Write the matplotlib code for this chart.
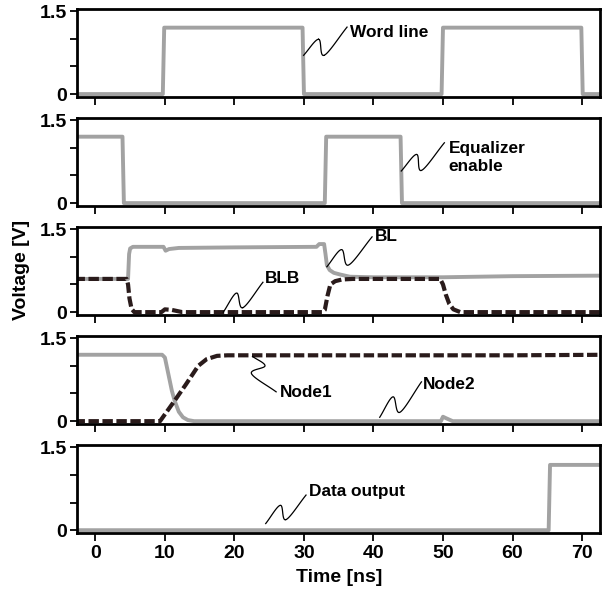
import numpy as np
import matplotlib
matplotlib.use("Agg")
import matplotlib.pyplot as plt
from matplotlib.ticker import FixedLocator

plt.rcParams['font.family'] = ['Liberation Sans', 'DejaVu Sans']
plt.rcParams['font.weight'] = 'bold'

# ---------------- data ----------------
x_ticks = [0, 10, 20, 30, 40, 50, 60, 70]

wl_t = [-3, 9.7, 9.9, 29.8, 30.0, 49.8, 50.0, 69.9, 70.1, 74]
wl_v = [0, 0, 1.2, 1.2, 0, 0, 1.2, 1.2, 0, 0]

eq_t = [-3, 3.9, 4.1, 33.0, 33.2, 43.9, 44.1, 74]
eq_v = [1.2, 1.2, 0, 0, 1.2, 1.2, 0, 0]

bl_t = [-3, 4.7, 4.85, 5.0, 5.4, 9.8, 10.1, 10.6, 12, 20, 31.8, 32.2, 32.9, 33.1, 33.3,
        33.7, 34.3, 35.2, 36.6, 40, 50, 60, 74]
bl_v = [0.6, 0.6, 1.05, 1.15, 1.18, 1.18, 1.11, 1.14, 1.16, 1.17, 1.18, 1.23, 1.23, 1.05,
        0.85, 0.76, 0.71, 0.68, 0.64, 0.63, 0.63, 0.65, 0.66]

blb_t = [-3, 4.5, 4.7, 4.9, 5.2, 5.6, 9.5, 10.0, 11, 12.5, 32.6, 33.0, 33.4, 33.8, 34.5,
         35.5, 37, 49.6, 50.0, 50.4, 50.9, 51.5, 52.5, 74]
blb_v = [0.6, 0.6, 0.5, 0.25, 0.06, 0.0, 0.0, 0.05, 0.04, 0.0, 0.0, 0.04, 0.3, 0.5, 0.56,
         0.59, 0.6, 0.6, 0.5, 0.32, 0.15, 0.05, 0.0, 0.0]

node2_t = [-3, 9.6, 10.0, 10.5, 11.0, 11.4, 12.0, 12.6, 13.3, 14.2, 49.7, 50.0, 50.5, 51.4, 74]
node2_v = [1.2, 1.2, 1.15, 0.85, 0.55, 0.37, 0.17, 0.07, 0.02, 0.0, 0.0, 0.08, 0.05, 0.0, 0.0]

node1_t = [-3, 9.3, 11.4, 13.0, 14.8, 16.0, 17.5, 19.0, 25, 40, 60, 74]
node1_v = [0, 0, 0.37, 0.66, 1.0, 1.12, 1.18, 1.19, 1.19, 1.19, 1.19, 1.2]

out_t = [-3, 65.2, 65.4, 74]
out_v = [0, 0, 1.18, 1.18]

GRAY = '#a2a2a2'
DARK = '#2a1b1b'

# ---------------- figure ----------------
fig = plt.figure(figsize=(6.08, 5.89), dpi=100)
fig.subplots_adjust(left=0.126, right=0.987, top=0.985, bottom=0.0956, hspace=0.243)
axes = fig.subplots(5, 1, sharex=True)


def squiggle(ax, pts):
    """Catmull-Rom curve through pointer points (decoration)."""
    p = np.array(pts, dtype=float)
    p = np.vstack([p[0] - (p[1] - p[0]), p, p[-1] + (p[-1] - p[-2])])
    out = []
    s = np.linspace(0, 1, 20)
    for i in range(1, len(p) - 2):
        p0, p1, p2, p3 = p[i - 1], p[i], p[i + 1], p[i + 2]
        for u in s:
            out.append(0.5 * ((2 * p1) + (-p0 + p2) * u + (2 * p0 - 5 * p1 + 4 * p2 - p3) * u ** 2
                              + (-p0 + 3 * p1 - 3 * p2 + p3) * u ** 3))
    out = np.array(out)
    ax.plot(out[:, 0], out[:, 1], color='black', lw=0.9, clip_on=False, zorder=5)


gl = dict(color=GRAY, lw=2.8, solid_capstyle='butt', solid_joinstyle='round')
dl = dict(color=DARK, lw=3.0, linestyle=(0, (2.5, 0.85)), dash_capstyle='butt')

axes[0].plot(wl_t, wl_v, **gl)
axes[1].plot(eq_t, eq_v, **gl)
axes[2].plot(bl_t, bl_v, **gl)
axes[2].plot(blb_t, blb_v, **dl)
axes[3].plot(node2_t, node2_v, **gl)
axes[3].plot(node1_t, node1_v, **dl)
axes[4].plot(out_t, out_v, **gl)

TL = 14
for ax in axes:
    ax.set_xlim(-2.7, 72.6)
    ax.set_ylim(-0.045, 1.54)
    ax.yaxis.set_major_locator(FixedLocator([0, 1.5]))
    ax.set_yticklabels(['0', '1.5'])
    ax.yaxis.set_minor_locator(FixedLocator([0.5, 1.0]))
    ax.xaxis.set_major_locator(FixedLocator(x_ticks))
    ax.tick_params(axis='both', which='both', direction='out', width=1.3, length=5,
                   labelsize=TL, pad=2)
    ax.tick_params(axis='x', which='major', length=6)
    for sp in ax.spines.values():
        sp.set_linewidth(2.0)
    for lab in ax.get_yticklabels():
        lab.set_fontweight('bold')
for ax in axes[:-1]:
    ax.tick_params(axis='x', labelbottom=False)
axes[-1].set_xticklabels([str(v) for v in x_ticks], fontweight='bold')
axes[-1].tick_params(axis='x', pad=3)

fs = 12.4
# annotations
squiggle(axes[0], [(29.95, 0.70), (32.1, 0.99), (32.9, 0.70), (36.2, 1.21)])
axes[0].text(36.6, 1.12, 'Word line', fontsize=fs, fontweight='bold', va='center', ha='left')

squiggle(axes[1], [(44.0, 0.58), (46.2, 0.88), (46.9, 0.59), (50.2, 1.09)])
axes[1].text(50.8, 0.83, 'Equalizer\nenable', fontsize=fs, fontweight='bold', va='center',
             ha='left', linespacing=1.25)

squiggle(axes[2], [(33.3, 0.82), (35.4, 1.13), (36.4, 0.85), (39.8, 1.36)])
axes[2].text(40.2, 1.36, 'BL', fontsize=fs, fontweight='bold', va='center', ha='left')
squiggle(axes[2], [(18.4, 0.0), (20.3, 0.345), (21.2, 0.08), (24.1, 0.54)])
axes[2].text(24.4, 0.6, 'BLB', fontsize=fs, fontweight='bold', va='center', ha='left')

squiggle(axes[3], [(22.6, 1.17), (24.4, 1.0), (22.45, 0.86), (26.0, 0.53)])
axes[3].text(26.5, 0.51, 'Node1', fontsize=fs, fontweight='bold', va='center', ha='left')
squiggle(axes[3], [(40.9, 0.07), (42.8, 0.44), (43.8, 0.16), (46.9, 0.71)])
axes[3].text(47.1, 0.66, 'Node2', fontsize=fs, fontweight='bold', va='center', ha='left')

squiggle(axes[4], [(24.5, 0.12), (26.6, 0.45), (27.4, 0.19), (30.3, 0.635)])
axes[4].text(30.7, 0.70, 'Data output', fontsize=fs, fontweight='bold', va='center', ha='left')

fig.text(21 / 608, 1 - 270 / 589, 'Voltage [V]', rotation=90, fontsize=14,
         fontweight='bold', ha='center', va='center')
fig.text(339 / 608, 1 - 577 / 589, 'Time [ns]', fontsize=14, fontweight='bold',
         ha='center', va='center')

fig.savefig('out.png', dpi=100)
